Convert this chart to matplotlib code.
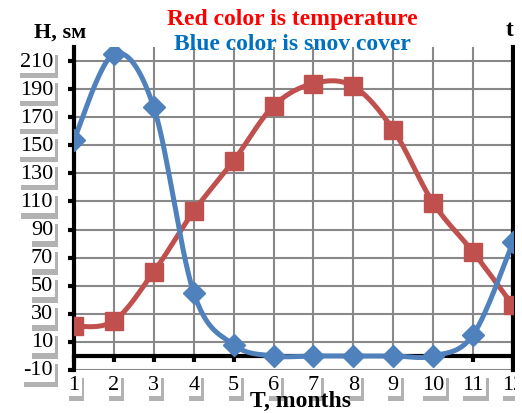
import numpy as np
import matplotlib
matplotlib.use("Agg")
import matplotlib.pyplot as plt
import matplotlib.patheffects as pe
import matplotlib.transforms as mtransforms
from matplotlib.patches import Rectangle

plt.rcParams['font.family'] = ['Liberation Serif', 'DejaVu Serif']

months = [1, 2, 3, 4, 5, 6, 7, 8, 9, 10, 11, 12]
snow = [154, 215, 177, 45, 8, 0, 0, 0, 0, 0, 15, 81]
temp = [21, 25, 60, 103, 139, 178, 194, 192, 161, 109, 74, 36]
yticks = [-10, 10, 30, 50, 70, 90, 110, 130, 150, 170, 190, 210]

RED = "#C0504D"
BLUE = "#4F81BD"


def smooth(x, y, n=30):
    # excel-like smoothed line: bezier segments with catmull-rom control points
    x = np.asarray(x, float)
    y = np.asarray(y, float)
    px = np.concatenate([[x[0]], x, [x[-1]]])
    py = np.concatenate([[y[0]], y, [y[-1]]])
    t = np.linspace(0, 1, n)[:, None]
    xs, ys = [], []
    for i in range(1, len(px) - 2):
        p0 = np.array([px[i], py[i]])
        p3 = np.array([px[i + 1], py[i + 1]])
        c1 = p0 + (np.array([px[i + 1], py[i + 1]]) - np.array([px[i - 1], py[i - 1]])) / 6
        c2 = p3 - (np.array([px[i + 2], py[i + 2]]) - np.array([px[i], py[i]])) / 6
        b = (1 - t) ** 3 * p0 + 3 * (1 - t) ** 2 * t * c1 + 3 * (1 - t) * t ** 2 * c2 + t ** 3 * p3
        xs.append(b[:, 0])
        ys.append(b[:, 1])
    return np.concatenate(xs), np.concatenate(ys)


fig = plt.figure(figsize=(5.22, 4.14), dpi=100)
ax = fig.add_axes([74 / 522, 1 - 371 / 414, (513 - 74) / 522, (371 - 48) / 414])
ax.set_xlim(1, 12)
ax.set_ylim(-10, 220)

# grid
ax.set_yticks(yticks)
ax.grid(axis='y', color='#888888', lw=1.5, zorder=0)
ax.vlines(months, 0, 220, color='#888888', lw=1.5, zorder=0)

ax.spines['top'].set_visible(False)
for s in ['left', 'right', 'bottom']:
    ax.spines[s].set_linewidth(3)
    ax.spines[s].set_color('black')
ax.spines['bottom'].set_position(('data', 0))
ax.spines['bottom'].set_zorder(2)

ax.set_xticks(months)
ax.tick_params(axis='both', direction='out', length=4, width=3, color='black',
               labelleft=False, labelbottom=False)

# series
sx, sy = smooth(months, temp)
ax.plot(sx, sy, color=RED, lw=3.6, zorder=3, solid_capstyle='round')
ax.plot(months, temp, ls='none', marker='s', ms=12.5, color=RED, zorder=4)

sx, sy = smooth(months, snow)
ax.plot(sx, sy, color=BLUE, lw=3.6, zorder=3, solid_capstyle='round')
ax.plot(months, snow, ls='none', marker='D', ms=11.5, color=BLUE, zorder=4)

# tick labels in white boxes with shadow
shadow = [pe.SimplePatchShadow(offset=(2, -4), shadow_rgbFace='#555555', alpha=0.45), pe.Normal()]
box = dict(facecolor='white', edgecolor='none', pad=1.5)
ytrans = mtransforms.blended_transform_factory(mtransforms.IdentityTransform(), ax.transData)
for v in yticks:
    t = ax.text(53, v, str(v), ha='right', va='center', fontsize=16,
                transform=ytrans, bbox=box, clip_on=False)
    t.get_bbox_patch().set_path_effects(shadow)
for m in months:
    t = ax.text(m, -20, str(m), ha='center', va='center', fontsize=16,
                bbox=box, clip_on=False)
    t.get_bbox_patch().set_path_effects(shadow)

# titles and axis names
fig.text(292 / 522, 1 - 20 / 414, "Red color is temperature", color='#FF0000',
         fontsize=17, fontweight='bold', ha='center', va='center')
fig.text(292 / 522, 1 - 45 / 414, "Blue color is snov cover", color='#0070C0',
         fontsize=17, fontweight='bold', ha='center', va='center')
fig.text(34 / 522, 1 - 33 / 414, "H, sм", fontsize=16, fontweight='bold',
         ha='left', va='center')
fig.text(301 / 522, 1 - 401 / 414, "T, months", fontsize=17, fontweight='bold',
         ha='center', va='center')
fig.text(514 / 522, 1 - 30 / 414, "t", fontsize=17, fontweight='bold',
         ha='right', va='center')

# the reference picture is cut off just right of the last month
fig.patches.append(Rectangle((515 / 522, 0), 7 / 522, 1, transform=fig.transFigure,
                             facecolor='white', edgecolor='none', zorder=10))

fig.savefig("out.png", dpi=100)
